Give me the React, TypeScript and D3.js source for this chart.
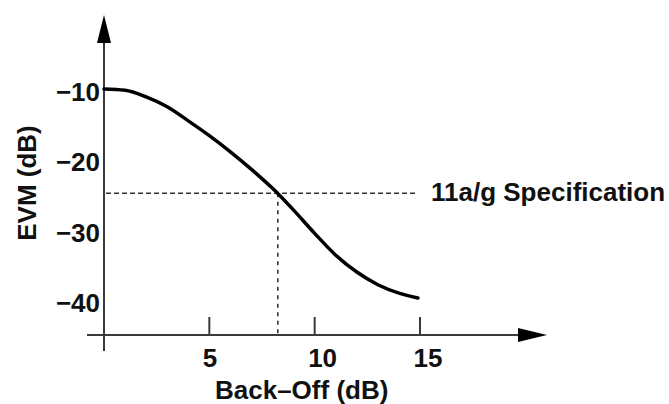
import React from "react";
import * as d3 from "d3";

const backOff = [0, 1, 2, 3, 4, 5, 6, 7, 8, 9, 10, 11, 12, 13, 14, 14.9];
const evm = [-9.57, -9.75, -10.7, -12.1, -14.1, -16.2, -18.5, -21.0, -23.7, -26.8, -30.1, -33.2, -35.6, -37.4, -38.6, -39.3];
const xTicks = [5, 10, 15];
const yTicks = [-10, -20, -30, -40];
const specValue = -24.4;
const specBackOff = 8.25;
const specLabel = "11a/g Specification";
const xLabel = "Back–Off (dB)";
const yLabel = "EVM (dB)";

const W = 669;
const H = 404;
const FONT = "'Liberation Sans', Arial, Helvetica, sans-serif";

export default function App() {
  const x = d3.scaleLinear().domain([0, 15]).range([104, 420]);
  const y = d3.scaleLinear().domain([-10, -40]).range([92, 303]);
  const x0 = x(0);
  const yAxisY = 335;

  const pts: [number, number][] = backOff.map((b, i) => [b, evm[i]]);
  const line = d3
    .line<[number, number]>()
    .x((d) => x(d[0]))
    .y((d) => y(d[1]))
    .curve(d3.curveMonotoneX);

  const textStyle = { fontFamily: FONT, fontWeight: 700, fontSize: 26, fill: "#111" } as const;
  const axisColor = "#3a3a3a";

  return (
    <svg
      width={W}
      height={H}
      style={{ position: "absolute", left: 0, top: 0, background: "#fff" }}
    >
      {/* y axis */}
      <line x1={x0} x2={x0} y1={351} y2={40} stroke={axisColor} strokeWidth={2} />
      <polygon points={`${x0},15 ${x0 - 7},43 ${x0 + 7},43`} fill="#000" />
      {/* x axis */}
      <line x1={87} x2={520} y1={yAxisY} y2={yAxisY} stroke={axisColor} strokeWidth={2} />
      <polygon points={`547,${yAxisY} 518,${yAxisY - 7} 518,${yAxisY + 7}`} fill="#000" />

      {xTicks.map((t) => (
        <g key={t}>
          <line x1={x(t)} x2={x(t)} y1={yAxisY} y2={317} stroke={axisColor} strokeWidth={2} />
          <text x={x(t) - 6.5} y={367} textAnchor="start" style={textStyle}>
            {t}
          </text>
        </g>
      ))}
      {yTicks.map((t) => (
        <text key={t} x={100} y={y(t) + 9} textAnchor="end" style={textStyle}>
          {"−" + Math.abs(t)}
        </text>
      ))}

      {/* spec dashed lines */}
      <line
        x1={x0 + 2}
        x2={417}
        y1={y(specValue)}
        y2={y(specValue)}
        stroke="#333"
        strokeWidth={1.6}
        strokeDasharray="5 3"
      />
      <line
        x1={x(specBackOff)}
        x2={x(specBackOff)}
        y1={y(specValue)}
        y2={yAxisY}
        stroke="#333"
        strokeWidth={1.6}
        strokeDasharray="4 4.5"
      />

      {/* curve */}
      <path d={line(pts) || ""} fill="none" stroke="#000" strokeWidth={3.5} strokeLinecap="round" />

      <text x={431} y={y(specValue) + 8} style={textStyle}>
        {specLabel}
      </text>
      <text x={215} y={399} style={textStyle}>
        {xLabel}
      </text>
      <text
        transform={`translate(36,183) rotate(-90)`}
        textAnchor="middle"
        style={textStyle}
      >
        {yLabel}
      </text>
    </svg>
  );
}
